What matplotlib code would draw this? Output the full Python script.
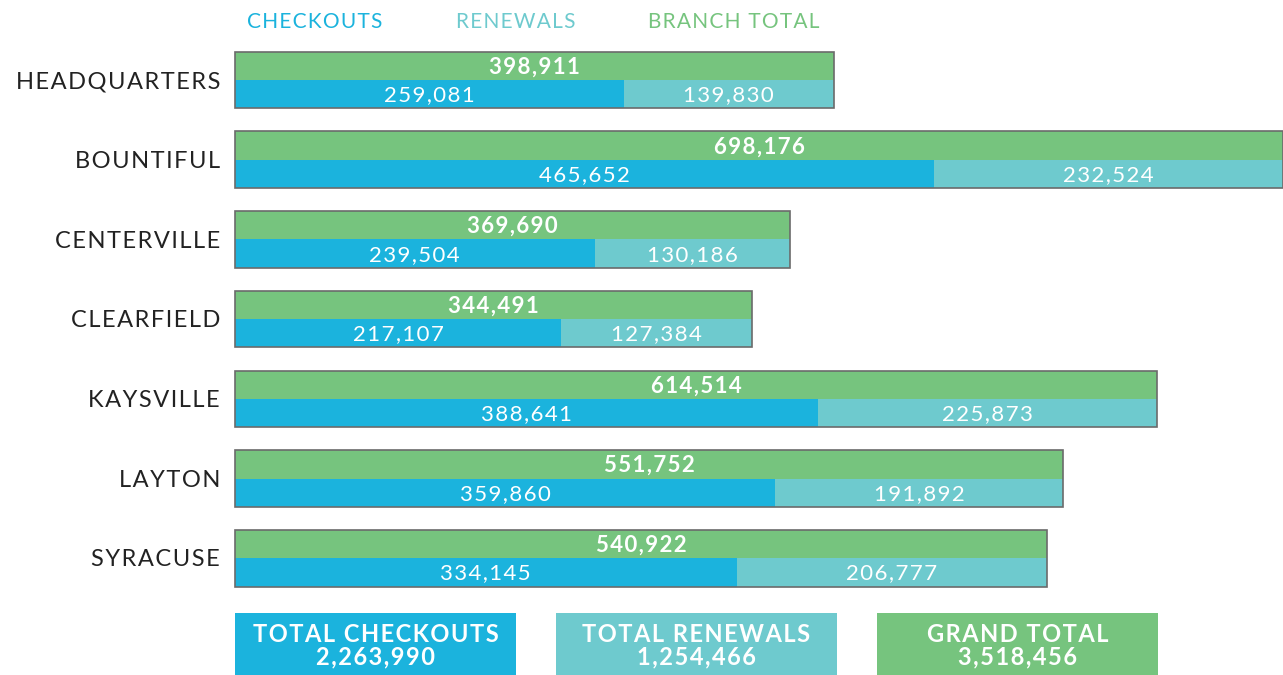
import matplotlib.pyplot as plt
from matplotlib.patches import Rectangle

branches = ['HEADQUARTERS', 'BOUNTIFUL', 'CENTERVILLE', 'CLEARFIELD', 'KAYSVILLE', 'LAYTON', 'SYRACUSE']
checkouts = [259081, 465652, 239504, 217107, 388641, 359860, 334145]
renewals = [139830, 232524, 130186, 127384, 225873, 191892, 206777]
totals = [398911, 698176, 369690, 344491, 614514, 551752, 540922]
legend_labels = ['CHECKOUTS', 'RENEWALS', 'BRANCH TOTAL']
summary_labels = ['TOTAL CHECKOUTS', 'TOTAL RENEWALS', 'GRAND TOTAL']
summary_values = [2263990, 1254466, 3518456]

c_blue = '#1bb3dd'
c_teal = '#6ecace'
c_green = '#76c47e'
c_edge = '#6b6b6b'

plt.rcParams['font.family'] = ['Lato', 'DejaVu Sans']

HAIR = '\u200a'


def spaced(s, sp=HAIR):
    # fake letter spacing
    return sp.join(s)


W, H = 1283, 675
fig = plt.figure(figsize=(W / 100, H / 100), dpi=100)

# main axes: x from 235px to right edge, rows ~80px apart
ax = fig.add_axes([235 / W, (H - 600) / H, 1048 / W, 560 / H])
ax.set_xlim(0, max(totals))
ax.set_ylim(6.524, -0.502)
ax.axis('off')

rows = list(range(len(branches)))
half = 0.355
ax.barh([r - half / 2 for r in rows], totals, height=half, color=c_green, linewidth=0)
ax.barh([r + half / 2 for r in rows], checkouts, height=half, color=c_blue, linewidth=0)
ax.barh([r + half / 2 for r in rows], renewals, left=checkouts, height=half, color=c_teal, linewidth=0)
ax.barh(rows, totals, height=2 * half, fill=False, edgecolor=c_edge, linewidth=1.2, clip_on=False)

for r in rows:
    ax.text(totals[r] / 2, r - half / 2 + 0.015, spaced(f'{totals[r]:,}'), color='white', fontsize=16,
            fontweight='bold', ha='center', va='center')
    ax.text(checkouts[r] / 2, r + half / 2 + 0.015, spaced(f'{checkouts[r]:,}'), color='white',
            fontsize=16, ha='center', va='center')
    ax.text(checkouts[r] + renewals[r] / 2, r + half / 2 + 0.015, spaced(f'{renewals[r]:,}'),
            color='white', fontsize=16, ha='center', va='center')
    ax.text(-15 / 1048 * max(totals), r + 0.02, spaced(branches[r]), color='#222222', fontsize=17,
            ha='right', va='center')

# legend on top
for label, color, cx in zip(legend_labels, [c_blue, c_teal, c_green], [315, 516, 734]):
    fig.text(cx / W, 1 - 22 / H, spaced(label), color=color, fontsize=15, ha='center', va='center')

# summary boxes
box_x = [235, 556, 877]
box_w = 281
for bx, lab, val, color in zip(box_x, summary_labels, summary_values, [c_blue, c_teal, c_green]):
    fig.patches.append(Rectangle((bx / W, 0), box_w / W, 62 / H, transform=fig.transFigure,
                                 color=color, linewidth=0))
    fig.text((bx + box_w / 2) / W, 1 - 634 / H, spaced(lab), color='white', fontsize=17, fontweight='bold',
             ha='center', va='center')
    fig.text((bx + box_w / 2) / W, 1 - 657 / H, spaced(f'{val:,}'), color='white', fontsize=17,
             fontweight='bold', ha='center', va='center')

fig.savefig('out.png', dpi=100)
